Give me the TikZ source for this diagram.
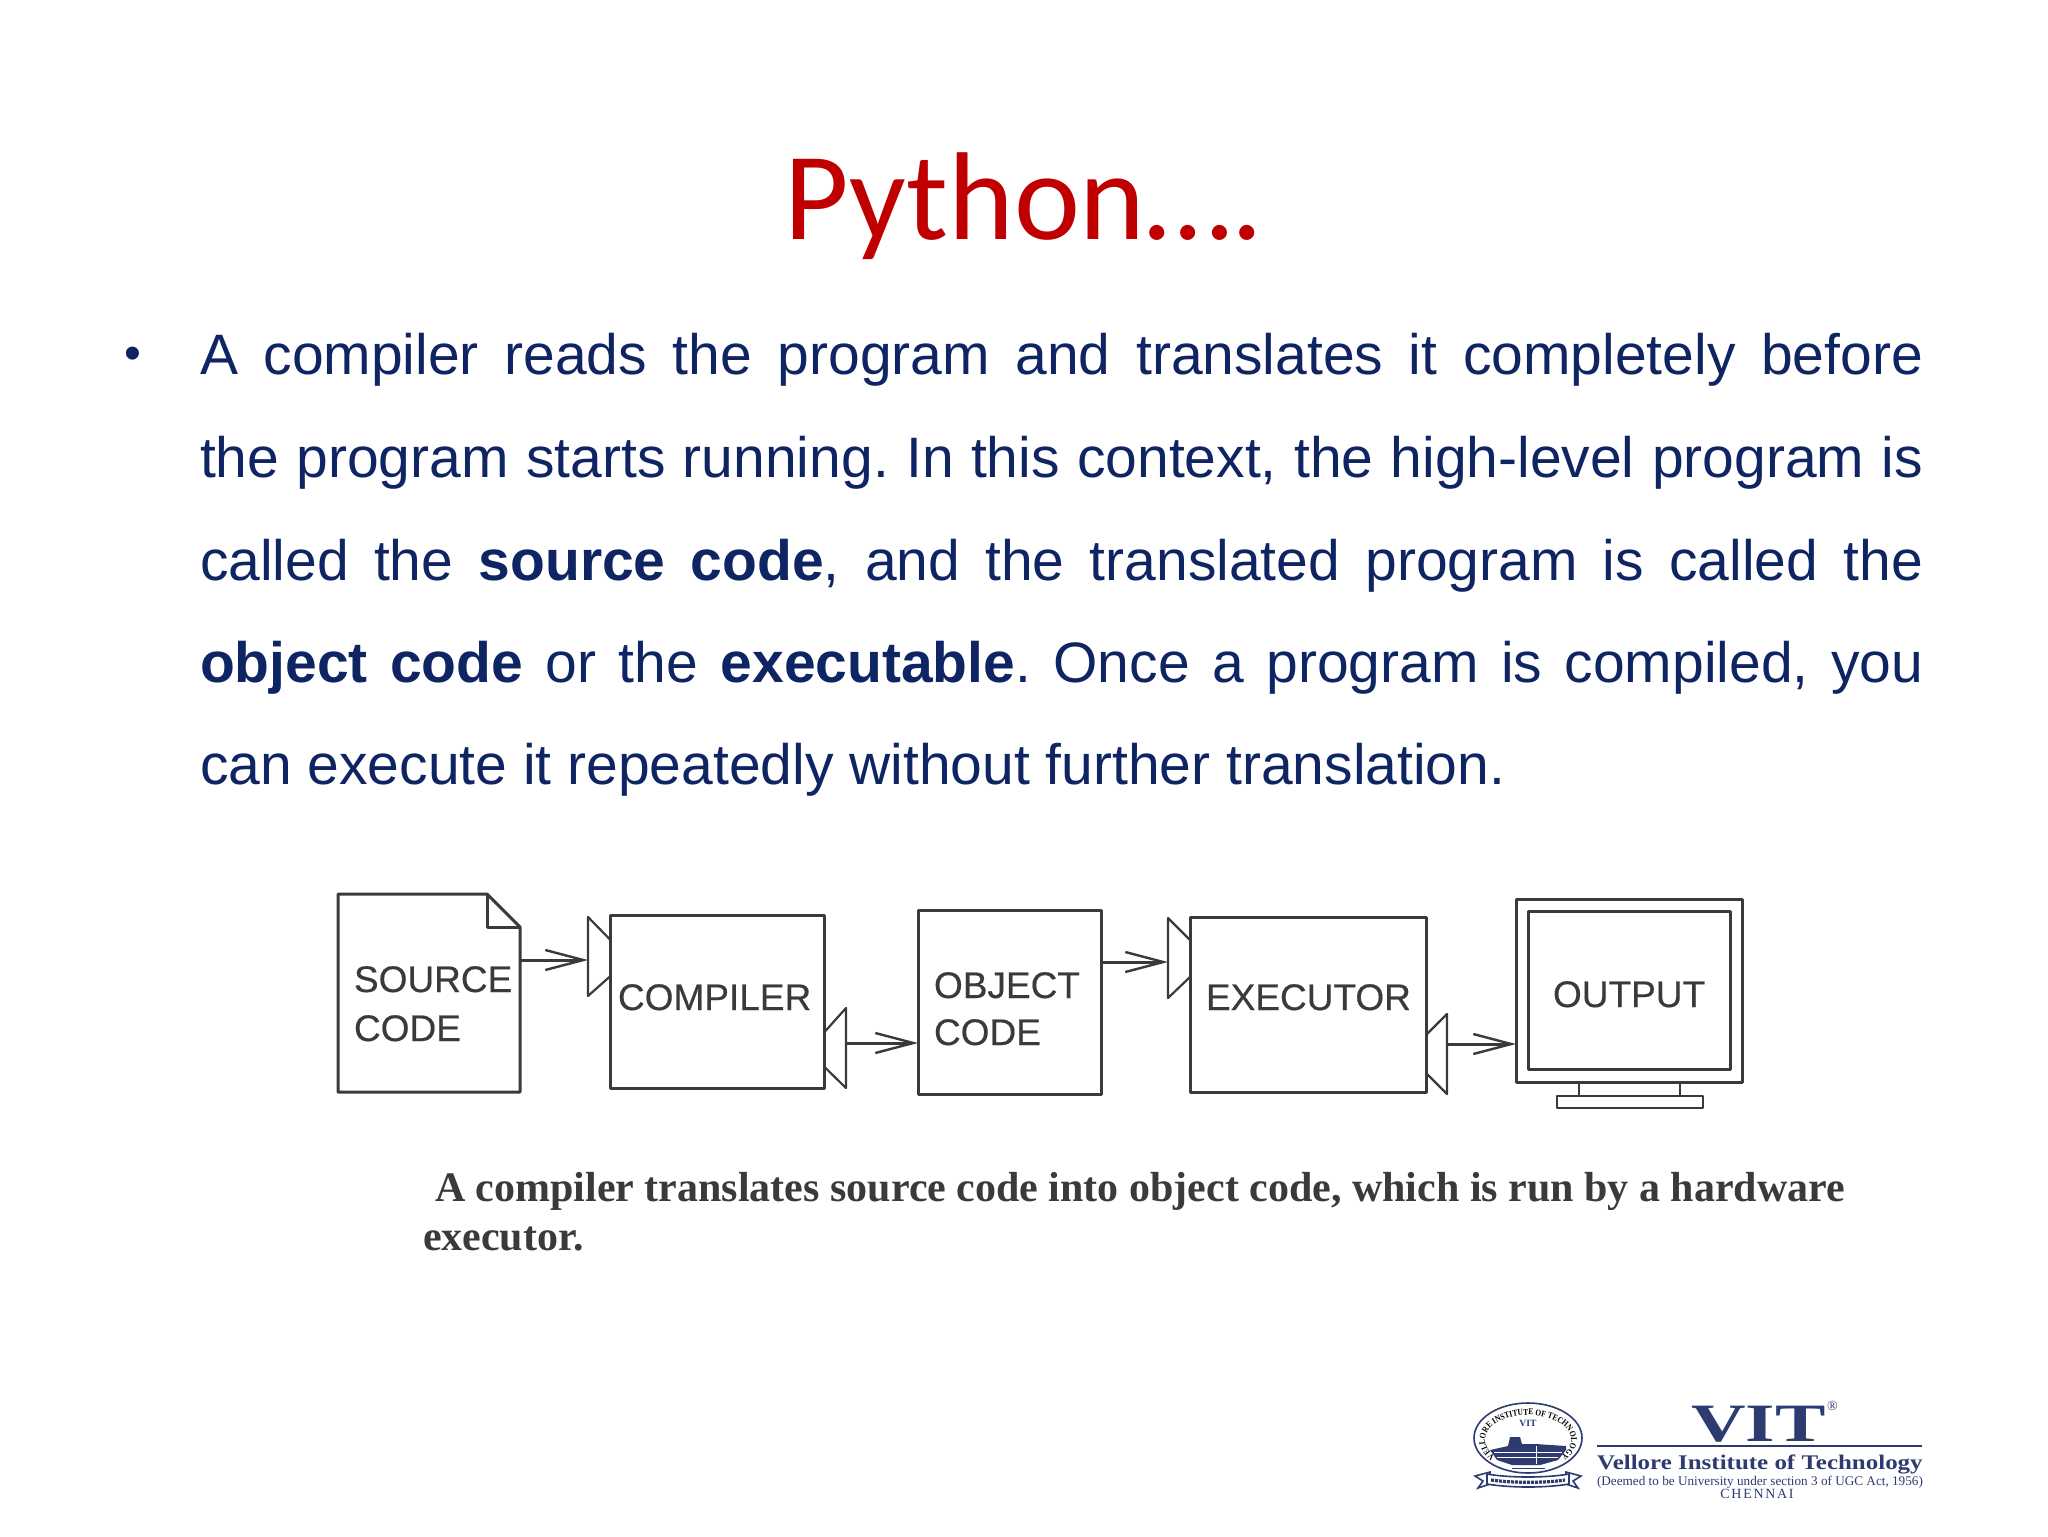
\documentclass[tikz,border=0pt]{standalone}
\usepackage{fontspec}
\setmainfont{Liberation Sans}
\newfontfamily\titlefont{Carlito}
\newfontfamily\labelfont[FakeBold=0.4]{Liberation Sans}
\newfontfamily\capfont{Liberation Serif}
\newfontfamily\widefont[FakeStretch=1.4]{Liberation Serif}
\newfontfamily\namefont[FakeStretch=1.2]{Liberation Serif}
\newfontfamily\sealfont[FakeStretch=0.85]{Liberation Serif}
\newfontfamily\spacedfont[LetterSpace=12]{Liberation Serif}
\usetikzlibrary{arrows.meta,decorations.text,calc}
\definecolor{titlered}{HTML}{C00000}
\definecolor{bodyblue}{HTML}{0F2463}
\definecolor{ink}{HTML}{3A3A3A}
\definecolor{vitblue}{HTML}{2E3B70}
\tikzset{
 x=0.5pt,y=-0.5pt,
 txt/.style={inner sep=0pt,outer sep=0pt,anchor=base west},
 bodyline/.style={txt,text=bodyblue,font=\fontsize{28.5}{28.5}\selectfont},
 label/.style={txt,text=ink,font=\labelfont\fontsize{18.5}{18.5}\selectfont},
 caption/.style={txt,text=ink,font=\capfont\bfseries\fontsize{21}{22}\selectfont},
 wire/.style={draw=ink,line width=1.5pt,line join=round},
 thinwire/.style={draw=ink,line width=1.1pt,line join=round},
 box/.style={wire,rectangle,inner sep=0pt,outer sep=0pt},
 ghost/.style={rectangle,inner sep=0pt,outer sep=0pt},
 arr/.style={wire,-{Straight Barb[length=19pt,width=10pt,line width=1.2pt]}},
 logo/.style={inner sep=0pt,outer sep=0pt,text=vitblue},
}
\newcommand{\fline}[1]{\hbox to 861.5pt{\frenchspacing\spaceskip=0.28em plus 1fil\relax #1}}
\begin{document}
\begin{tikzpicture}
\useasboundingbox (0,0) rectangle (2048,1536);
\node[txt,text=titlered,font=\titlefont\fontsize{62.5}{64}\selectfont] (title) at (784,239) {Python….};
\node[txt,text=bodyblue,font=\fontsize{24}{24}\selectfont] (bullet) at (124,369) {•};
\node[bodyline] (l1) at (200,374) {\fline{A compiler reads the program and translates it completely before}};
\node[bodyline] (l2) at (200,477) {\fline{the program starts running. In this context, the high-level program is}};
\node[bodyline] (l3) at (200,580) {\fline{called the \textbf{source code}, and the translated program is called the}};
\node[bodyline] (l4) at (200,682) {\fline{\textbf{object code} or the \textbf{executable}. Once a program is compiled, you}};
\node[bodyline] (l5) at (200,784) {\frenchspacing can execute it repeatedly without further translation.};

% source document
\node[ghost,minimum width=91pt,minimum height=99pt] (source) at (429,993) {};
\draw[wire] (source.south west) -- (source.north west) -- (487,894) -- (520,927) -- (source.south east) -- cycle;
\draw[wire] (487,894) -- (487,927) -- (520,927);
\node[label] (sourcetxt) at (354,992) {SOURCE};
\node[label] (codetxt) at (354,1041) {CODE};
% compiler
\node[box,minimum width=107pt,minimum height=86.5pt] (compiler) at (717.5,1001.5) {};
\node[label] (compilerlab) at (618,1010) {COMPILER};
% object
\node[box,minimum width=91.5pt,minimum height=92pt] (object) at (1009.5,1002) {};
\node[label] (objtxt) at (934,998) {OBJECT};
\node[label] (objcode) at (934,1045) {CODE};
% executor
\node[box,minimum width=118pt,minimum height=87.5pt] (executor) at (1308,1004.5) {};
\node[label] (exectxt) at (1206,1010) {EXECUTOR};
% monitor
\node[box,minimum width=113pt,minimum height=91.5pt] (monitor) at (1629,990.5) {};
\node[box,minimum width=101pt,minimum height=79pt] (screen) at (1629,990) {};
\node[label] (outtxt) at (1553,1007) {OUTPUT};
\node[box,thinwire,minimum width=50.5pt,minimum height=7pt] (stand) at (1629.5,1089) {};
\node[box,thinwire,minimum width=73pt,minimum height=6pt] (base) at (1630,1102) {};

% ports
\coordinate (p1) at (588,960);
\coordinate (p2) at (846,1043);
\coordinate (p3) at (1168,962);
\coordinate (p4) at (1447,1044);
\draw[thinwire] (compiler.west |- 0,940) -- (p1 |- 0,917) -- (p1 |- 0,996) -- (compiler.west |- 0,976);
\draw[thinwire] (compiler.east |- 0,1032) -- (p2 |- 0,1008) -- (p2 |- 0,1088) -- (compiler.east |- 0,1067);
\draw[thinwire] (executor.west |- 0,940) -- (p3 |- 0,918) -- (p3 |- 0,998) -- (executor.west |- 0,977);
\draw[thinwire] (executor.east |- 0,1035) -- (p4 |- 0,1014) -- (p4 |- 0,1094) -- (executor.east |- 0,1073);
% arrows
\draw[arr] (source.east |- p1) -- (p1);
\draw[arr] (p2) -- (object.west |- p2);
\draw[arr] (object.east |- p3) -- (p3);
\draw[arr] (p4) -- (monitor.west |- p4);

\node[caption] (cap1) at (435,1201) {A compiler translates source code into object code, which is run by a hardware};
\node[caption] (cap2) at (423,1250) {executor.};

% logo seal
\begin{scope}[vitblue]
\draw[line width=0.8pt] (1528,1438) ellipse [x radius=54,y radius=35];
\path[decorate,decoration={text along path,text align=center,text={|\sealfont\bfseries\fontsize{4.4}{5}\selectfont|VELLORE INSTITUTE OF TECHNOLOGY}}]
  (1528,1440) ++(128:43 and 25) arc [start angle=128,end angle=412,x radius=43,y radius=25];
\node[logo,font=\capfont\bfseries\fontsize{4.8}{5}\selectfont] (sealvit) at (1528,1423) {VIT};
\fill (1490,1450) -- (1508,1446) -- (1510,1437) -- (1520,1437) -- (1522,1444) -- (1536,1444) -- (1566,1446) -- (1566,1450) -- (1558,1460) -- (1540,1465) -- (1512,1465) -- (1497,1460) -- cycle;
\draw[white,line width=0.25pt] (1494,1452) -- (1562,1452) (1497,1457) -- (1558,1457) (1536,1446) -- (1536,1464);
\draw[line width=0.4pt] (1512,1468) -- (1545,1468);
% ribbon
\draw[line width=0.8pt,fill=white] (1475,1476) -- (1490,1472) -- (1490,1484) -- (1478,1488) -- (1483,1481) -- cycle;
\draw[line width=0.8pt,fill=white] (1581,1476) -- (1566,1472) -- (1566,1484) -- (1578,1488) -- (1573,1481) -- cycle;
\draw[line width=0.8pt,fill=white] (1487,1474) .. controls (1510,1478) and (1546,1478) .. (1569,1474) -- (1569,1484) .. controls (1546,1488) and (1510,1488) .. (1487,1484) -- cycle;
\draw[line width=1.6pt,dash pattern=on 1.5pt off 0.5pt] (1491,1480) .. controls (1512,1483) and (1546,1483) .. (1565,1480);
\end{scope}
% logo wordmark
\node[logo,txt,font=\widefont\bfseries\fontsize{27}{27}\selectfont] (vit) at (1691,1441) {VIT};
\node[logo,txt,font=\capfont\fontsize{7}{7}\selectfont] (reg) at (1827,1410) {®};
\draw[vitblue,line width=0.8pt] (1597,1446) coordinate (rulea) -- (1922,1446) coordinate (ruleb);
\node[logo,txt,font=\namefont\bfseries\fontsize{10.4}{11}\selectfont] (vname) at (1597,1469) {Vellore Institute of Technology};
\node[logo,txt,font=\capfont\fontsize{6.6}{7}\selectfont] (deemed) at (1597,1485) {(Deemed to be University under section 3 of UGC Act, 1956)};
\node[logo,anchor=base,font=\spacedfont\fontsize{7}{7}\selectfont] (chennai) at (1757,1498) {CHENNAI};
\end{tikzpicture}
\end{document}
